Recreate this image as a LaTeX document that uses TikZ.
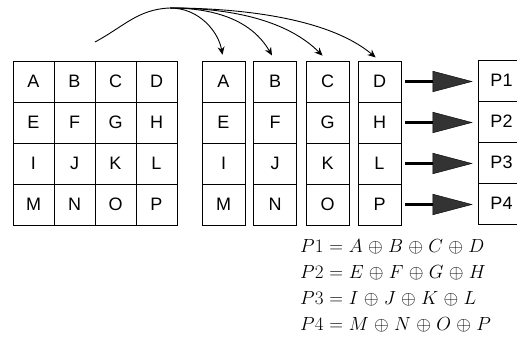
\RequirePackage{fix-cm}
\documentclass[tikz,border=0pt]{standalone}
\usepackage{fontspec}
\usepackage{amsmath}
\setsansfont{Liberation Sans}
\usetikzlibrary{arrows.meta}
\newcommand{\widespace}{\medmuskip=5mu\relax\thickmuskip=5.5mu\relax}
\tikzset{cell/.style={draw,line width=0.7pt,minimum width=41pt,minimum height=41pt,inner sep=0pt,font=\sffamily\fontsize{18}{18}\selectfont},
         strip/.style={cell,minimum width=43pt},
         parity/.style={cell,minimum width=47pt},
         bigarrow/.style={line width=3pt,-{Triangle[length=40pt,width=21pt,line width=0.4pt,fill=black!80]},shorten <=4pt,shorten >=5pt},
         curvearrow/.style={line width=0.9pt,-{Stealth[length=8pt,width=7pt]}},
         eq/.style={anchor=base west,inner sep=0pt,font=\fontsize{19}{19}\selectfont},
        }

\begin{document}
\begin{tikzpicture}[x=1pt,y=1pt]
        \useasboundingbox (0,0) rectangle (517,339);
        % data block
        \node[cell](ga)at(33.5,257.5){A};
        \node[cell](gb)at(74.5,257.5){B};
        \node[cell](gc)at(115.5,257.5){C};
        \node[cell](gd)at(156.5,257.5){D};
        \node[cell](ge)at(33.5,216.5){E};
        \node[cell](gf)at(74.5,216.5){F};
        \node[cell](gg)at(115.5,216.5){G};
        \node[cell](gh)at(156.5,216.5){H};
        \node[cell](gi)at(33.5,175.5){I};
        \node[cell](gj)at(74.5,175.5){J};
        \node[cell](gk)at(115.5,175.5){K};
        \node[cell](gl)at(156.5,175.5){L};
        \node[cell](gm)at(33.5,134.5){M};
        \node[cell](gn)at(74.5,134.5){N};
        \node[cell](go)at(115.5,134.5){O};
        \node[cell](gp)at(156.5,134.5){P};

        % split strips
        \node[strip](sa)at(223.5,257.5){A};
        \node[strip](se)at(223.5,216.5){E};
        \node[strip](si)at(223.5,175.5){I};
        \node[strip](sm)at(223.5,134.5){M};
        \node[strip](sb)at(275,257.5){B};
        \node[strip](sf)at(275,216.5){F};
        \node[strip](sj)at(275,175.5){J};
        \node[strip](sn)at(275,134.5){N};
        \node[strip](sc)at(327.5,257.5){C};
        \node[strip](sg)at(327.5,216.5){G};
        \node[strip](sk)at(327.5,175.5){K};
        \node[strip](so)at(327.5,134.5){O};
        \node[strip](sd)at(379.5,257.5){D};
        \node[strip](sh)at(379.5,216.5){H};
        \node[strip](sl)at(379.5,175.5){L};
        \node[strip](sp)at(379.5,134.5){P};

        % parity column
        \node[parity](p1)at(501.5,258.5){P1};
        \node[parity](p2)at(501.5,217.5){P2};
        \node[parity](p3)at(501.5,176.5){P3};
        \node[parity](p4)at(501.5,135.5){P4};

        \draw[bigarrow](sd.east)--(sd.east-|p1.west);
        \draw[bigarrow](sh.east)--(sh.east-|p2.west);
        \draw[bigarrow](sl.east)--(sl.east-|p3.west);
        \draw[bigarrow](sp.east)--(sp.east-|p4.west);

        % fan-out arrows
        \coordinate(tail)at(95,297);
        \coordinate(hub)at(170,331);
        \draw[line width=0.9pt](tail)to[out=28,in=182](hub);
        \draw[curvearrow,shorten >=6pt](hub)to[out=0,in=100](sa.north);
        \draw[curvearrow,shorten >=6pt](hub)to[out=0,in=120](sb.north);
        \draw[curvearrow,shorten >=7pt](hub)to[out=0,in=135,looseness=0.9](sc.north);
        \draw[curvearrow,shorten >=5pt](hub)to[out=0,in=140,looseness=0.8](sd.north);

        % parity equations
        \node[eq](eq1)at(300,86){$\widespace P1 = A \oplus B \oplus C \oplus D$};
        \node[eq](eq2)at(300,60){$\widespace P2 = E \oplus F \oplus G \oplus H$};
        \node[eq](eq3)at(300,34){$\widespace P3 = I \oplus J \oplus K \oplus L$};
        \node[eq](eq4)at(300,8){$\widespace P4 = M \oplus N \oplus O \oplus P$};
\end{tikzpicture}
\end{document}
